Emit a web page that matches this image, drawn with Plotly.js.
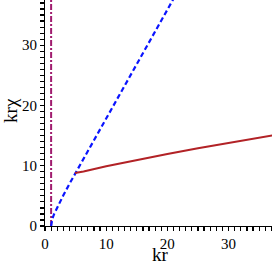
<!DOCTYPE html>
<html><head><meta charset="utf-8">
<script src="https://cdn.plot.ly/plotly-3.0.1.min.js"></script>
<style>html,body{margin:0;padding:0;background:#fff;}#chart{width:272px;height:264px;}</style>
</head><body><div id="chart"></div>
<script>
// Blue dashed curve
const blueX = [1.0, 1.05, 1.2, 1.5, 2, 3, 4, 5, 7, 10, 15, 21, 22.5];
const blueY = [0.0, 0.6, 1.2, 2.0, 3.1, 5.1, 7.0, 8.8, 12.6, 17.9, 26.9, 37.8, 40.4];
// Red solid curve
const redX = [4.9, 6.3, 10, 14.8, 17.1, 20, 25, 30, 37.5];
const redY = [8.8, 9.05, 9.9, 10.9, 11.4, 11.95, 12.9, 13.8, 15.1];
// Purple vertical dash-dot line
const vX = [1, 1];
const vY = [0, 40];
const xTitle = 'kr';
const yTitle = 'krχ';
const xRange = [0, 37.1];
const yRange = [0, 37.5];

const font = {family: 'Liberation Serif, Times New Roman, serif', color: '#000'};
const data = [
  {x: vX, y: vY, mode: 'lines', line: {color: '#a01c6e', width: 2, dash: '6px,2px,2px,2px'}, hoverinfo: 'skip'},
  {x: blueX, y: blueY, mode: 'lines', line: {color: '#0a14ff', width: 2.2, dash: '5px,3px'}, hoverinfo: 'skip'},
  {x: redX, y: redY, mode: 'lines', line: {color: '#b22226', width: 2}, hoverinfo: 'skip'}
];
const axisCommon = {
  showgrid: false, zeroline: false, showline: true, linecolor: '#000', linewidth: 1,
  ticks: 'outside', ticklen: 4, tickcolor: '#000', tickwidth: 1.2,
  tickmode: 'linear', tick0: 0, dtick: 10,
  tickfont: Object.assign({size: 15}, font),
  minor: {tickmode: 'linear', tick0: 0, dtick: 1, ticks: 'outside', ticklen: 4, tickcolor: '#000', tickwidth: 1.2, showgrid: false}
};
const layout = {
  width: 272, height: 264,
  margin: {l: 45, r: 0, t: 0, b: 38},
  paper_bgcolor: '#fff', plot_bgcolor: '#fff',
  showlegend: false,
  xaxis: Object.assign({}, axisCommon, {range: xRange}),
  yaxis: Object.assign({}, axisCommon, {range: yRange}),
  annotations: [
    {text: xTitle, xref: 'paper', yref: 'paper', x: 0.51, y: -0.126, xanchor: 'center', yanchor: 'middle', showarrow: false, font: Object.assign({size: 19}, font)},
    {text: yTitle, xref: 'paper', yref: 'paper', x: -0.155, y: 0.513, xanchor: 'center', yanchor: 'middle', textangle: -90, showarrow: false, font: Object.assign({size: 19}, font)}
  ]
};
Plotly.newPlot('chart', data, layout, {staticPlot: true, displayModeBar: false});
</script></body></html>
